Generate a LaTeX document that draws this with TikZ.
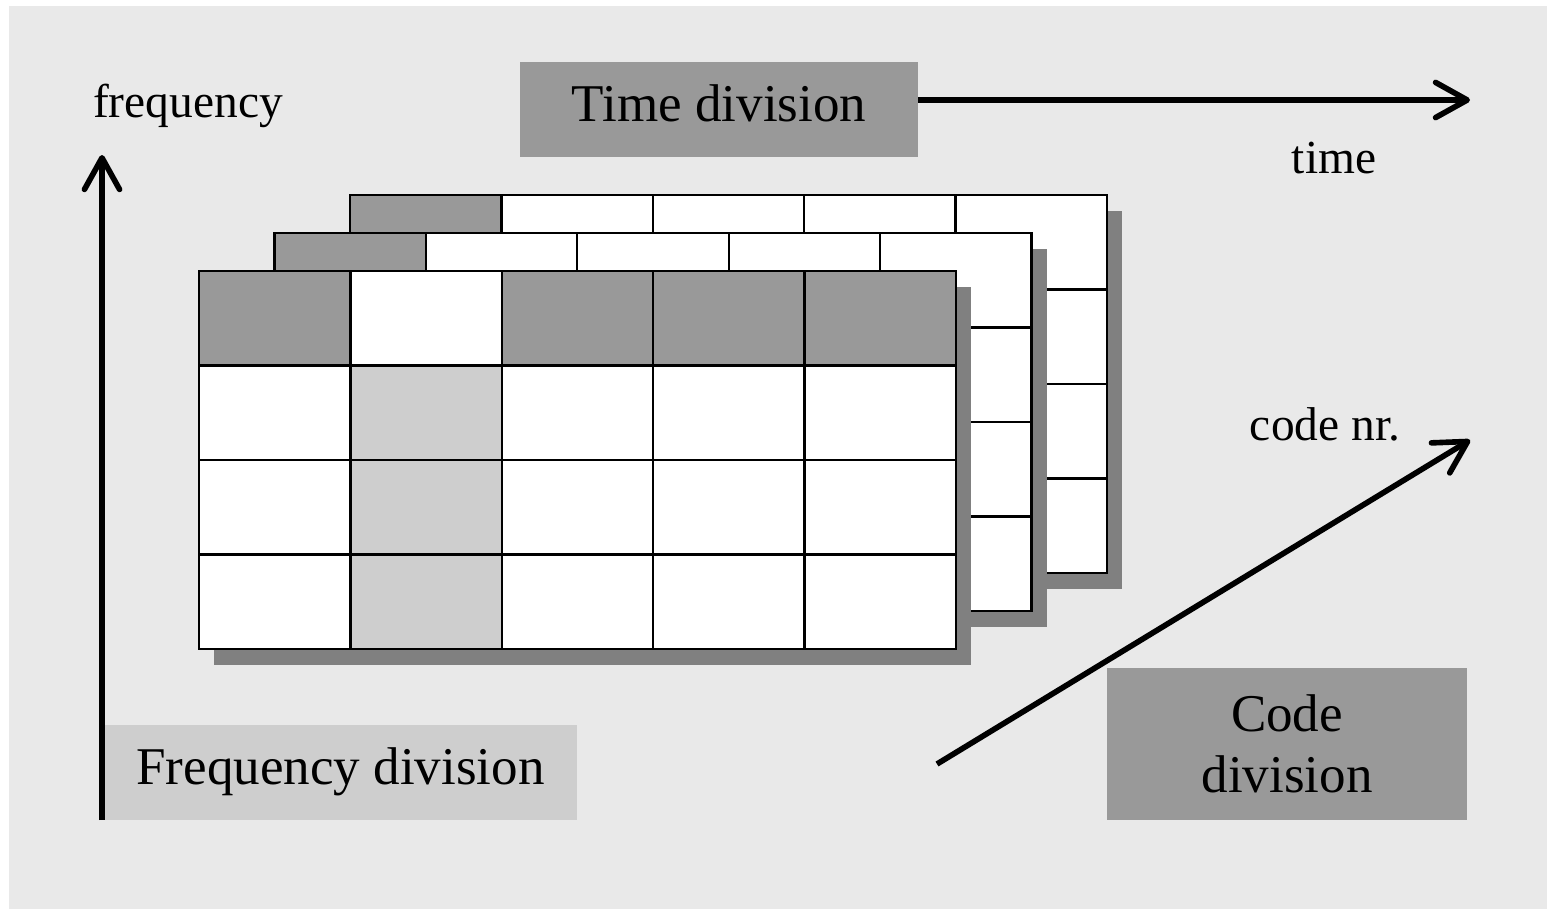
\documentclass[tikz,border=0pt]{standalone}
\usepackage{fontspec}
\setmainfont{Liberation Serif}
\usetikzlibrary{arrows.meta}

\definecolor{panelgrey}{RGB}{233,233,233}
\definecolor{darkcell}{RGB}{153,153,153}
\definecolor{lightcell}{RGB}{206,206,206}
\definecolor{shadowgrey}{RGB}{128,128,128}

\newcommand{\cellw}{151.4}
\newcommand{\cellh}{94.5}

\begin{document}
\begin{tikzpicture}[x=0.02cm, y=-0.02cm]

      \tikzset{cell/.style={draw=black, line width=1.3pt, fill=white},
               shadowbox/.style={fill=shadowgrey},
               axislabel/.style={font=\fontsize{27}{32}\selectfont, anchor=base},
               divbox/.style={fill=darkcell, inner sep=0pt, font=\fontsize{30.2}{36}\selectfont},
               oneline/.style={text height=21pt, text depth=7.5pt},
               axis/.style={line width=3.2pt, -{Straight Barb[length=18pt, width=20pt, round]}}}

%% Panel
      \useasboundingbox (0,0) rectangle (1547,909);
      \fill[white] (0,0) rectangle (1547,909);
      \fill[panelgrey] (9,6) rectangle (1547,909);

%% Three code layers, back to front
      \foreach \ox/\oy/\front in {350/195/0, 274.5/233/0, 199/271/1}{
        \begin{scope}[shift={(\ox,\oy)}]
          \fill[shadowbox] (15,16) rectangle ++(5*\cellw,4*\cellh);
          \foreach \c in {0,...,4}
            \foreach \r in {0,...,3}{
              \def\cellfill{white}
              \ifnum\front=0
                \ifnum\c=0 \ifnum\r=0 \def\cellfill{darkcell}\fi\fi
              \else
                \ifnum\r=0 \ifnum\c=1 \else\def\cellfill{darkcell}\fi\fi
                \ifnum\c=1 \ifnum\r>0 \def\cellfill{lightcell}\fi\fi
              \fi
              \draw[cell, fill=\cellfill] (\c*\cellw,\r*\cellh) rectangle ++(\cellw,\cellh);
            }
        \end{scope}
      }

%% Division boxes
      \node[divbox, oneline, minimum width=7.96cm, minimum height=1.9cm] (timediv) at (719,109.5) {Time division};
      \node[divbox, oneline, fill=lightcell, minimum width=9.46cm, minimum height=1.9cm] (freqdiv) at (340.5,772.5) {Frequency division};
      \node[divbox, align=center, minimum width=7.2cm, minimum height=3.04cm] (codediv) at (1287,744) {Code\\[-1pt]division};

%% Axis labels
      \node[axislabel] (freqlabel) at (188,117) {frequency};
      \node[axislabel] (timelabel) at (1334,173) {time};
      \node[axislabel] (codelabel) at (1325,440) {code nr.};

%% Axes
      \coordinate (freqbase) at (102,820);
      \coordinate (freqtip) at (102,155);
      \coordinate (timetip) at (1470,100);
      \coordinate (codebase) at (937,764);
      \coordinate (codetip) at (1470,440);
      \draw[axis] (freqbase) -- (freqtip);
      \draw[axis] (timediv.east |- timetip) -- (timetip);
      \draw[axis] (codebase) -- (codetip);

\end{tikzpicture}
\end{document}
